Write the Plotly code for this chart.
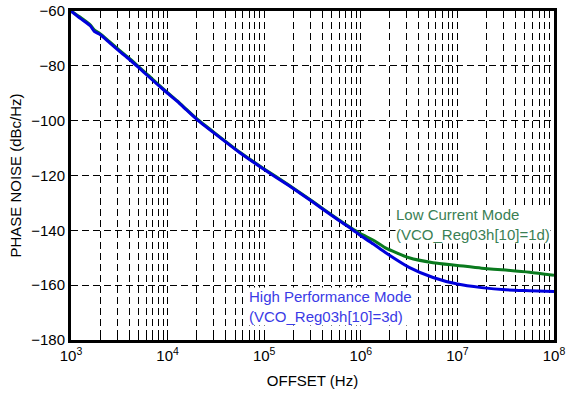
import plotly.graph_objects as go

# Offset frequency (Hz)
offset_hz = [1.0e3, 1.26e3, 1.58e3, 1.74e3, 2.0e3, 2.5e3, 3.16e3, 4.0e3, 5.0e3, 6.3e3,
             7.9e3, 1.0e4, 1.26e4, 1.58e4, 2.0e4, 3.16e4, 5.6e4, 1.0e5, 1.78e5, 3.16e5,
             5.6e5, 7.9e5, 1.0e6, 1.35e6, 1.78e6, 3.16e6, 5.6e6, 1.0e7, 1.78e7, 3.16e7,
             5.6e7, 1.0e8]

# High Performance Mode (blue)
high_perf = [-60.0, -62.8, -65.4, -67.4, -68.6, -71.5, -74.6, -77.6, -80.6, -83.8,
             -86.9, -90.0, -93.0, -96.2, -99.5, -105.0, -111.7, -117.8, -123.6, -129.6,
             -135.8, -139.3, -142.0, -145.0, -148.0, -153.5, -157.2, -159.6, -160.9, -161.7,
             -162.0, -162.3]

# Low Current Mode (green)
low_current = [-60.0, -62.4, -65.0, -66.9, -68.3, -71.2, -74.3, -77.2, -80.3, -83.4,
               -86.6, -89.8, -92.8, -96.0, -99.3, -104.8, -111.5, -117.6, -123.4, -129.4,
               -135.6, -139.1, -141.3, -143.6, -146.3, -150.0, -151.8, -152.8, -153.8, -154.5,
               -155.3, -156.4]

decades = [3, 4, 5, 6, 7, 8]
minor_mult = [1, 2, 3, 4, 5, 6, 7, 8, 9]
y_ticks = [-180, -160, -140, -120, -100, -80, -60]

tickvals = []
ticktext = []
for d in decades:
    for m in minor_mult:
        if d == 8 and m > 1:
            continue
        tickvals.append(m * 10 ** d)
        ticktext.append(f"10<sup>{d}</sup>" if m == 1 else "")

FONT = "Liberation Sans, Arial, Helvetica, sans-serif"

fig = go.Figure()
fig.add_trace(go.Scatter(x=offset_hz, y=low_current, mode="lines",
                         line=dict(color="#0a7a1e", width=3, shape="spline", smoothing=0.6),
                         showlegend=False))
fig.add_trace(go.Scatter(x=offset_hz, y=high_perf, mode="lines",
                         line=dict(color="#0000dc", width=3, shape="spline", smoothing=0.6),
                         showlegend=False))

fig.add_annotation(x=6.35, y=-137.7, xref="x", yref="y",
                   text="Low Current Mode<br>(VCO_Reg03h[10]=1d)",
                   showarrow=False, xanchor="left", yanchor="middle", align="left",
                   bgcolor="white", borderpad=0,
                   font=dict(family=FONT, size=15, color="#3a8054"))
fig.add_annotation(x=4.83, y=-167.8, xref="x", yref="y",
                   text="High Performance Mode<br>(VCO_Reg03h[10]=3d)",
                   showarrow=False, xanchor="left", yanchor="middle", align="left",
                   bgcolor="white", borderpad=0,
                   font=dict(family=FONT, size=15, color="#3a3ae6"))

fig.update_layout(
    width=567, height=395,
    margin=dict(l=71, r=13, t=11, b=55, autoexpand=False),
    paper_bgcolor="white", plot_bgcolor="white",
    font=dict(family=FONT, size=14, color="black"),
    xaxis=dict(type="log", range=[3, 8], tickmode="array", tickvals=tickvals, ticktext=ticktext,
               showgrid=True, gridcolor="black", gridwidth=1, griddash="7px,4px",
               showline=True, linecolor="black", linewidth=3, mirror=True,
               ticks="inside", ticklen=4, tickcolor="black",
               tickfont=dict(size=15), automargin=False,
               title=dict(text="OFFSET (Hz)", font=dict(size=15), standoff=13),
               zeroline=False),
    yaxis=dict(range=[-180, -60], tickmode="array", tickvals=y_ticks,
               showgrid=True, gridcolor="black", gridwidth=1, griddash="7px,4px",
               showline=True, linecolor="black", linewidth=3, mirror=True,
               ticks="", tickfont=dict(size=15), automargin=False,
               title=dict(text="PHASE NOISE (dBc/Hz)", font=dict(size=15), standoff=6),
               zeroline=False),
)

fig.write_html("out.html", config={"displayModeBar": False},
               post_script="document.body.style.margin='0';document.body.style.overflow='hidden';")
